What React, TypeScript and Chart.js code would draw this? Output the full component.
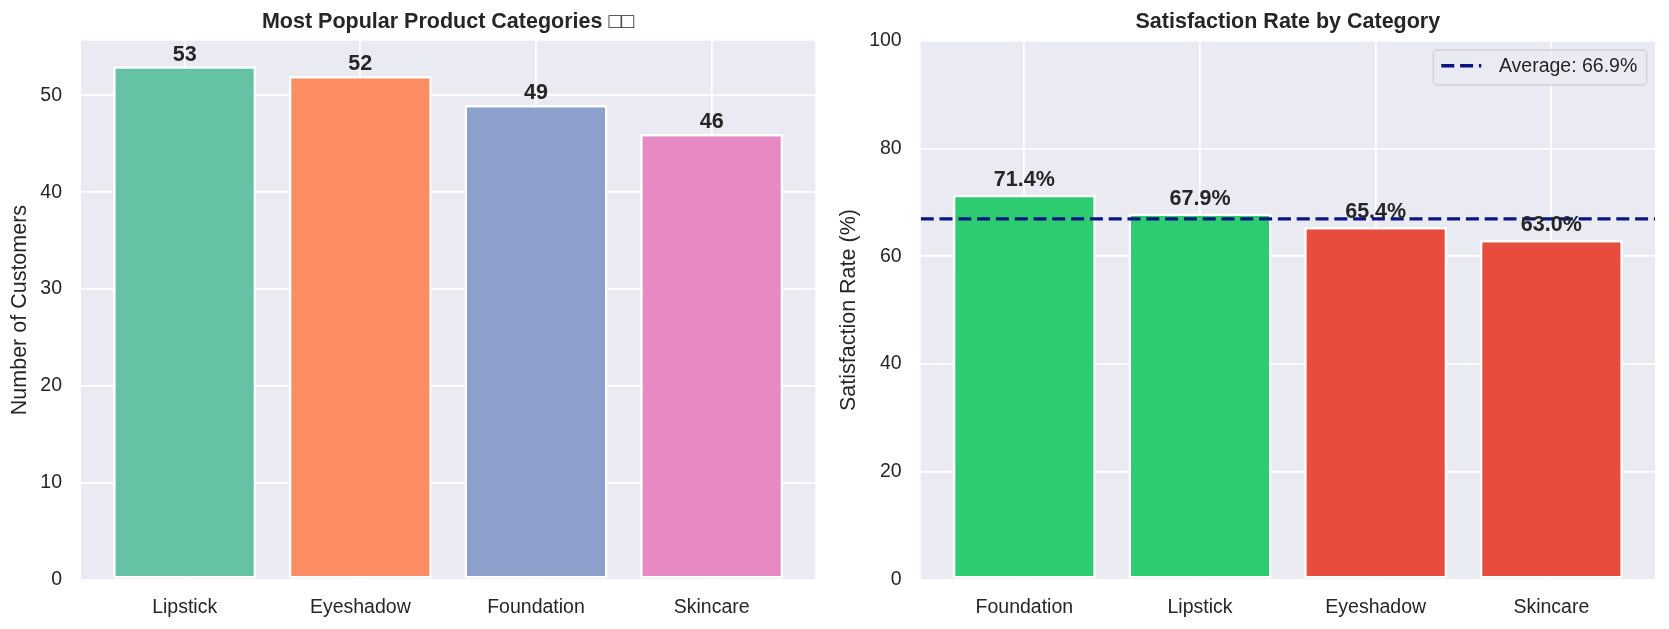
import React, { useEffect, useRef } from 'react';
import { Chart, registerables } from 'chart.js';

Chart.register(...registerables);

// ---------- data ----------
const POP_CATEGORIES = ['Lipstick', 'Eyeshadow', 'Foundation', 'Skincare'];
const POP_COUNTS = [53, 52, 49, 46];
const POP_COLORS = ['#66c2a5', '#fc8d62', '#8da0cb', '#e78ac3'];
const POP_Y_TICKS = [0, 10, 20, 30, 40, 50];
const POP_TITLE = 'Most Popular Product Categories \u25A1\u25A1';
const POP_Y_LABEL = 'Number of Customers';

const SAT_CATEGORIES = ['Foundation', 'Lipstick', 'Eyeshadow', 'Skincare'];
const SAT_RATES = [71.4, 67.9, 65.4, 63.0];
const SAT_COLORS = ['#2ecc71', '#2ecc71', '#e74c3c', '#e74c3c'];
const SAT_Y_TICKS = [0, 20, 40, 60, 80, 100];
const SAT_TITLE = 'Satisfaction Rate by Category';
const SAT_Y_LABEL = 'Satisfaction Rate (%)';
const SAT_AVERAGE = SAT_RATES.reduce((a, b) => a + b, 0) / SAT_RATES.length;

// axis limits (matplotlib-like margins around 4 bars of width 0.8)
const X_MIN = -0.59;
const X_MAX = 3.59;

// ---------- styles ----------
const FAMILY = "'Liberation Sans', Arial, Helvetica, sans-serif";
const TEXT = '#262626';
const PLOT_BG = '#eaeaf2';
const AVG_COLOR = '#0b1580';

const titleFont = { family: FAMILY, size: 21.5, weight: 'bold' as const, lineHeight: 1.2 };
const labelFont = { family: FAMILY, size: 21.5, lineHeight: 1.2 };
const tickFont = { family: FAMILY, size: 19.5, lineHeight: 1.2 };

const plotBg = {
  id: 'plotBg',
  beforeDraw(chart: any) {
    const { ctx, chartArea } = chart;
    ctx.save();
    ctx.fillStyle = PLOT_BG;
    ctx.fillRect(chartArea.left, chartArea.top, chartArea.right - chartArea.left, chartArea.bottom - chartArea.top);
    ctx.restore();
  },
};

function makeValueLabels(values: number[], offset: number, decimals: number, suffix: string) {
  return {
    id: 'valueLabels',
    afterDatasetsDraw(chart: any) {
      const { ctx } = chart;
      const yScale = chart.scales.y;
      chart.data.datasets.forEach((ds: any, di: number) => {
        if (ds.type !== 'bar') return;
        const meta = chart.getDatasetMeta(di);
        ctx.save();
        ctx.font = `bold 21.5px ${FAMILY}`;
        ctx.fillStyle = TEXT;
        ctx.textAlign = 'center';
        ctx.textBaseline = 'alphabetic';
        meta.data.forEach((el: any, i: number) => {
          const v = values[i];
          const y = yScale.getPixelForValue(v + offset) - 3.7;
          ctx.fillText(v.toFixed(decimals) + suffix, el.x, y);
        });
        ctx.restore();
      });
    },
  };
}

const avgLegend = {
  id: 'avgLegend',
  afterDraw(chart: any) {
    const { ctx, chartArea } = chart;
    const text = `Average: ${SAT_AVERAGE.toFixed(1)}%`;
    ctx.save();
    ctx.font = `19.5px ${FAMILY}`;
    const tw = ctx.measureText(text).width;
    const w = 8 + 40 + 17.6 + tw + 9.4;
    const h = 35;
    const x = chartArea.right - 8.3 - w;
    const y = chartArea.top + 9.3;
    ctx.beginPath();
    if (ctx.roundRect) ctx.roundRect(x, y, w, h, 4);
    else ctx.rect(x, y, w, h);
    ctx.fillStyle = 'rgba(234,234,242,0.8)';
    ctx.fill();
    ctx.strokeStyle = 'rgba(204,204,204,0.8)';
    ctx.lineWidth = 1.4;
    ctx.stroke();
    ctx.beginPath();
    ctx.setLineDash([13, 5.8]);
    ctx.lineCap = 'butt';
    ctx.strokeStyle = AVG_COLOR;
    ctx.lineWidth = 3.4;
    ctx.moveTo(x + 8, y + 15.7);
    ctx.lineTo(x + 48, y + 15.7);
    ctx.stroke();
    ctx.setLineDash([]);
    ctx.fillStyle = TEXT;
    ctx.textAlign = 'left';
    ctx.textBaseline = 'alphabetic';
    ctx.fillText(text, x + 65.6, y + 21.7);
    ctx.restore();
  },
};

function baseScales(
  categories: string[],
  yTicks: number[],
  yMax: number,
  yLabel: string,
  yWidth: number,
  yTitlePad: number
) {
  return {
    x: {
      type: 'linear' as const,
      min: X_MIN,
      max: X_MAX,
      offset: false,
      grid: { color: '#ffffff', lineWidth: 1.8, drawTicks: false, offset: false },
      border: { display: false },
      afterBuildTicks: (s: any) => {
        s.ticks = categories.map((_, i) => ({ value: i }));
      },
      afterFit: (s: any) => {
        s.height = 49.6;
      },
      ticks: {
        callback: (v: any) => categories[v as number],
        padding: 17,
        color: TEXT,
        font: tickFont,
        maxRotation: 0,
        autoSkip: false,
      },
    },
    y: {
      type: 'linear' as const,
      min: 0,
      max: yMax,
      grid: { color: '#ffffff', lineWidth: 1.8, drawTicks: false },
      border: { display: false },
      afterBuildTicks: (s: any) => {
        s.ticks = yTicks.map((v) => ({ value: v }));
      },
      afterFit: (s: any) => {
        s.width = yWidth;
      },
      ticks: {
        callback: (v: any) => String(v),
        padding: 19,
        color: TEXT,
        font: tickFont,
      },
      title: {
        display: true,
        text: yLabel,
        color: TEXT,
        font: labelFont,
        padding: { top: yTitlePad, bottom: 0 },
      },
    },
  };
}

function popularConfig(): any {
  return {
    type: 'bar',
    data: {
      datasets: [
        {
          type: 'bar',
          data: POP_COUNTS.map((v, i) => ({ x: i, y: v })),
          backgroundColor: POP_COLORS,
          borderColor: '#ffffff',
          borderWidth: 2.4,
          borderSkipped: false,
          barPercentage: 0.813,
          categoryPercentage: 1,
        },
      ],
    },
    options: {
      animation: false,
      responsive: true,
      maintainAspectRatio: false,
      layout: { padding: { left: 0, right: 18.7, top: 0, bottom: 0 } },
      plugins: {
        legend: { display: false },
        tooltip: { enabled: false },
        title: {
          display: true,
          text: POP_TITLE,
          fullSize: false,
          color: TEXT,
          font: titleFont,
          padding: { top: 9, bottom: 5.9 },
        },
      },
      scales: baseScales(POP_CATEGORIES, POP_Y_TICKS, Math.max(...POP_COUNTS) * 1.05, POP_Y_LABEL, 81, 7),
    },
    plugins: [plotBg, makeValueLabels(POP_COUNTS, 0.2, 0, '')],
  };
}

function satisfactionConfig(): any {
  return {
    type: 'bar',
    data: {
      datasets: [
        {
          type: 'line',
          label: `Average: ${SAT_AVERAGE.toFixed(1)}%`,
          data: [
            { x: X_MIN, y: SAT_AVERAGE },
            { x: X_MAX, y: SAT_AVERAGE },
          ],
          borderColor: AVG_COLOR,
          borderWidth: 3.4,
          borderDash: [13, 5.8],
          pointRadius: 0,
          fill: false,
          order: 0,
        },
        {
          type: 'bar',
          data: SAT_RATES.map((v, i) => ({ x: i, y: v })),
          backgroundColor: SAT_COLORS,
          borderColor: '#ffffff',
          borderWidth: 2.4,
          borderSkipped: false,
          barPercentage: 0.813,
          categoryPercentage: 1,
          order: 1,
        },
      ],
    },
    options: {
      animation: false,
      responsive: true,
      maintainAspectRatio: false,
      layout: { padding: { left: 0, right: 14, top: 0, bottom: 0 } },
      plugins: {
        legend: { display: false },
        tooltip: { enabled: false },
        title: {
          display: true,
          text: SAT_TITLE,
          fullSize: false,
          color: TEXT,
          font: titleFont,
          padding: { top: 9, bottom: 5.9 },
        },
      },
      scales: baseScales(SAT_CATEGORIES, SAT_Y_TICKS, 100, SAT_Y_LABEL, 86.7, 2),
    },
    plugins: [plotBg, makeValueLabels(SAT_RATES, 1, 1, '%'), avgLegend],
  };
}

function ChartCanvas({ makeConfig, left, width }: { makeConfig: () => any; left: number; width: number }) {
  const ref = useRef<HTMLCanvasElement>(null);
  useEffect(() => {
    if (!ref.current) return;
    const chart = new Chart(ref.current, makeConfig());
    return () => chart.destroy();
  }, []);
  return (
    <div style={{ position: 'absolute', left, top: 0, width, height: 629 }}>
      <canvas ref={ref} />
    </div>
  );
}

export default function App() {
  return (
    <div
      style={{
        position: 'absolute',
        left: 0,
        top: 0,
        width: 1669,
        height: 629,
        background: '#ffffff',
        overflow: 'hidden',
      }}
    >
      <ChartCanvas makeConfig={popularConfig} left={0} width={834} />
      <ChartCanvas makeConfig={satisfactionConfig} left={834} width={835} />
    </div>
  );
}
